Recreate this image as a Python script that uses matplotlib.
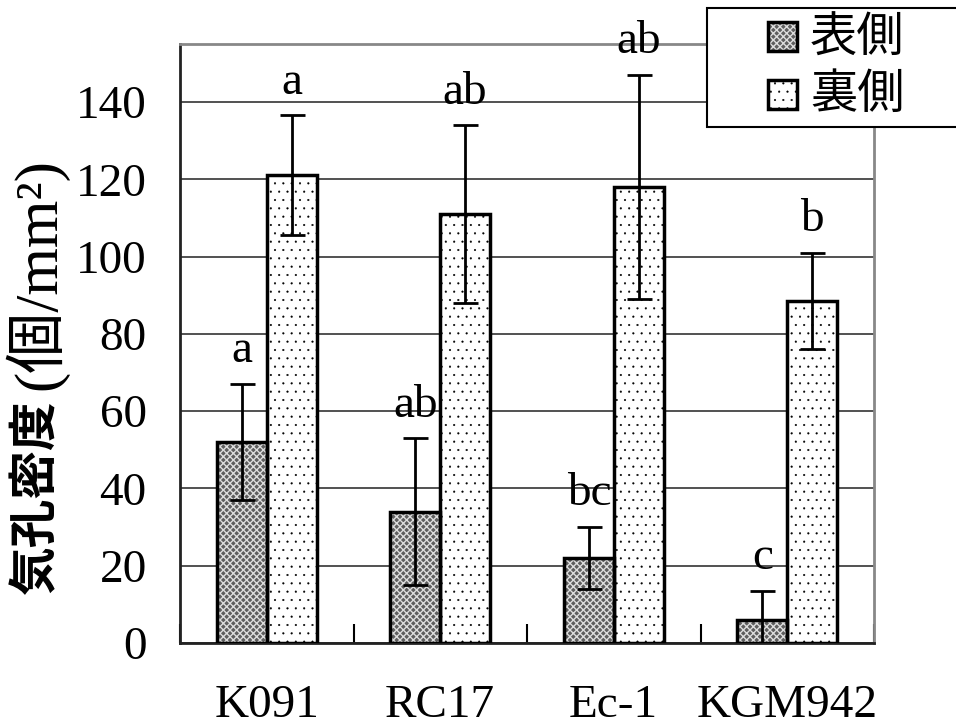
import numpy as np
import matplotlib.pyplot as plt
from matplotlib.patches import Rectangle

plt.rcParams['font.family'] = ['Liberation Serif', 'Noto Sans CJK JP']

# データ
cultivars = ['K091', 'RC17', 'Ec-1', 'KGM942']
upper = [52, 34, 22, 6]          # 表側
upper_err = [15, 19, 8, 7.5]
lower = [121, 111, 118, 88.5]    # 裏側
lower_err = [15.5, 23, 29, 12.5]
upper_sig = ['a', 'ab', 'bc', 'c']
lower_sig = ['a', 'ab', 'ab', 'b']

W, H = 956, 726
fig = plt.figure(figsize=(W / 100, H / 100), dpi=100, facecolor='w')
ax = fig.add_axes([180 / W, 1 - 643 / H, 694 / W, 599 / H])

x = np.arange(len(cultivars))
w = 0.287
dark = '#5e5e5e'
dark_hatch = 'xxxxx'
light_hatch = '..'

# 表側: 網掛け
plt.rcParams['hatch.linewidth'] = 1.0
ax.bar(x - w / 2, upper, w, color=dark, hatch=dark_hatch, edgecolor='#dddddd', lw=0, zorder=2)
fig.patches.append(Rectangle((768 / W, 1 - 51 / H), 29 / W, 29 / H,
                             transform=fig.transFigure, facecolor=dark,
                             hatch=dark_hatch, edgecolor='#dddddd', lw=0, zorder=10))
# 裏側: 点
plt.rcParams['hatch.linewidth'] = 0.3
ax.bar(x + w / 2, lower, w, color='white', hatch=light_hatch, edgecolor='black', lw=0, zorder=2)
fig.patches.append(Rectangle((768 / W, 1 - 109 / H), 29 / W, 29 / H,
                             transform=fig.transFigure, facecolor='white',
                             hatch=light_hatch, edgecolor='black', lw=0, zorder=10))

ax.bar(x - w / 2, upper, w, fill=False, edgecolor='black', lw=2.5, zorder=3)
ax.bar(x + w / 2, lower, w, fill=False, edgecolor='black', lw=2.5, zorder=3)

ax.errorbar(x - w / 2, upper, yerr=upper_err, fmt='none', ecolor='black',
            elinewidth=2, capsize=9, capthick=2, zorder=4)
ax.errorbar(x + w / 2, lower, yerr=lower_err, fmt='none', ecolor='black',
            elinewidth=2, capsize=9, capthick=2, zorder=4)

for i in range(len(cultivars)):
    ax.text(x[i] - w / 2, upper[i] + upper_err[i] + 3, upper_sig[i],
            ha='center', va='bottom', fontsize=34, zorder=5)
    ax.text(x[i] + w / 2, lower[i] + lower_err[i] + 3, lower_sig[i],
            ha='center', va='bottom', fontsize=34, zorder=5)

ax.set_xlim(-0.5, 3.5)
ax.set_ylim(0, 155)
ax.set_yticks(np.arange(0, 141, 20))
ax.yaxis.grid(True, color='#333333', lw=1.2)
ax.set_axisbelow(True)
ax.tick_params(axis='y', length=0, labelsize=34, pad=24)
ax.set_xticks(x)
ax.set_xticklabels(cultivars)
ax.tick_params(axis='x', which='major', length=0, labelsize=34, pad=30)
ax.set_xticks(np.arange(-0.5, 3.6, 1), minor=True)
ax.tick_params(axis='x', which='minor', direction='in', length=14, width=1.5)

for s in ['left', 'bottom']:
    ax.spines[s].set_linewidth(2)
    ax.spines[s].set_color('#222222')
for s in ['top', 'right']:
    ax.spines[s].set_linewidth(2)
    ax.spines[s].set_color('#888888')

# 縦軸ラベル
fig.text(36 / W, 1 - 594 / H, '気孔密度', rotation=90, ha='center', va='bottom',
         fontsize=35, fontweight='bold', family=['Noto Sans CJK JP'])
fig.text(36 / W, 1 - 390 / H, '(個/mm²)', rotation=90, ha='center', va='bottom',
         fontsize=44)

# 凡例（枠・記号・文字）
fig.patches.append(Rectangle((707 / W, 1 - 127 / H), 260 / W, 119 / H,
                             transform=fig.transFigure, facecolor='white',
                             edgecolor='black', lw=1.5, zorder=9))
for y0 in [22, 80]:
    fig.patches.append(Rectangle((768 / W, 1 - (y0 + 29) / H), 29 / W, 29 / H,
                                 transform=fig.transFigure, fill=False,
                                 edgecolor='black', lw=2.5, zorder=11))
fig.text(810 / W, 1 - 38 / H, '表側', ha='left', va='center', fontsize=34,
         family=['Noto Sans CJK JP'], zorder=12)
fig.text(810 / W, 1 - 95 / H, '裏側', ha='left', va='center', fontsize=34,
         family=['Noto Sans CJK JP'], zorder=12)

fig.savefig('out.png', dpi=100)
